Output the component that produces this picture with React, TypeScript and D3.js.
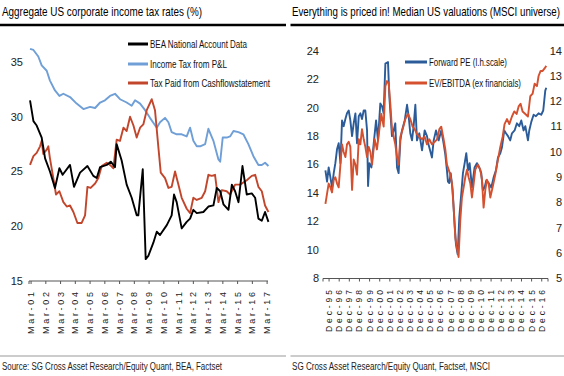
import React from 'react';
import * as d3 from 'd3';

// ---------- Left chart data (decimal year, %) ----------
const taxTickLabels = ['Mar-01','Mar-02','Mar-03','Mar-04','Mar-05','Mar-06','Mar-07','Mar-08','Mar-09','Mar-10','Mar-11','Mar-12','Mar-13','Mar-14','Mar-15','Mar-16','Mar-17'];
const taxTickYears = [2001.17,2002.17,2003.17,2004.17,2005.17,2006.17,2007.17,2008.17,2009.17,2010.17,2011.17,2012.17,2013.17,2014.17,2015.17,2016.17,2017.17];
const taxYTicks = [15, 20, 25, 30, 35];

const beaSeries: [number, number][] = [
  [2001.10,31.5],[2001.33,29.6],[2001.55,29.2],[2001.89,28.1],[2002.12,26.2],[2002.45,25.0],[2002.79,23.5],
  [2003.09,25.3],[2003.31,24.7],[2003.81,25.6],[2004.08,23.6],[2004.49,24.9],[2004.99,25.5],[2005.39,24.6],
  [2005.62,24.4],[2005.85,25.4],[2006.30,25.6],[2006.57,25.9],[2006.86,25.4],[2006.97,27.5],[2007.31,26.0],
  [2007.65,23.8],[2007.99,22.6],[2008.33,21.0],[2008.44,21.0],[2008.74,25.2],[2008.94,17.0],[2009.12,17.3],
  [2009.46,18.5],[2009.69,19.5],[2009.91,19.2],[2010.37,20.1],[2010.70,21.0],[2010.86,22.9],[2011.04,22.2],
  [2011.38,19.8],[2011.72,20.4],[2011.95,20.7],[2012.17,21.5],[2012.40,21.2],[2012.85,21.3],[2013.19,21.8],
  [2013.53,21.9],[2013.76,23.5],[2013.99,23.2],[2014.21,22.0],[2014.55,21.5],[2014.78,23.8],[2015.00,23.2],
  [2015.23,22.2],[2015.50,25.5],[2015.79,22.9],[2016.13,23.0],[2016.36,22.6],[2016.58,20.7],[2016.81,20.5],
  [2017.03,21.3],[2017.26,20.4],
];
const plSeries: [number, number][] = [
  [2001.10,36.2],[2001.33,36.1],[2001.66,35.5],[2001.89,34.7],[2002.23,34.2],[2002.45,33.3],[2002.79,32.4],
  [2003.09,31.9],[2003.36,32.1],[2003.81,31.8],[2004.26,31.2],[2004.72,30.7],[2005.17,30.9],[2005.51,30.8],
  [2005.85,31.3],[2006.18,31.5],[2006.52,31.9],[2006.86,32.1],[2007.20,31.6],[2007.65,31.3],[2007.99,31.0],
  [2008.22,31.5],[2008.56,31.2],[2008.90,30.6],[2009.23,29.9],[2009.69,29.0],[2009.91,29.5],[2010.25,29.9],
  [2010.48,29.5],[2010.70,28.6],[2011.04,28.4],[2011.38,28.4],[2011.72,28.2],[2011.95,29.0],[2012.17,27.8],
  [2012.40,27.3],[2012.63,27.3],[2012.97,27.5],[2013.19,28.9],[2013.53,27.8],[2013.87,26.1],[2013.99,25.9],
  [2014.16,28.1],[2014.43,28.1],[2014.66,28.2],[2014.89,28.7],[2015.23,28.6],[2015.56,28.4],[2015.90,27.5],
  [2016.24,26.4],[2016.58,25.6],[2016.81,25.6],[2017.03,25.8],[2017.26,25.5],
];
const cashSeries: [number, number][] = [
  [2001.10,25.6],[2001.33,26.4],[2001.55,26.7],[2001.78,27.3],[2001.89,27.8],[2002.00,26.6],[2002.23,27.0],
  [2002.34,27.3],[2002.45,26.2],[2002.68,24.4],[2002.86,22.9],[2003.09,23.2],[2003.36,22.2],[2003.59,21.8],
  [2003.81,21.9],[2004.04,21.3],[2004.31,20.3],[2004.60,20.3],[2004.83,21.0],[2004.99,23.6],[2005.21,23.5],
  [2005.51,23.9],[2005.73,24.4],[2005.96,25.5],[2006.30,25.8],[2006.52,25.6],[2006.75,25.3],[2006.97,27.9],
  [2007.20,27.8],[2007.43,29.0],[2007.65,28.7],[2007.88,30.0],[2008.11,29.2],[2008.33,28.1],[2008.56,29.0],
  [2008.78,29.3],[2009.01,30.6],[2009.35,31.6],[2009.57,30.6],[2009.80,27.2],[2009.96,24.9],[2010.25,24.4],
  [2010.48,23.5],[2010.70,23.6],[2010.93,25.0],[2011.16,23.8],[2011.38,22.6],[2011.72,21.6],[2011.95,21.2],
  [2012.17,22.6],[2012.40,22.4],[2012.74,22.6],[2012.97,23.2],[2013.19,24.7],[2013.42,24.6],[2013.64,24.7],
  [2013.87,22.2],[2014.10,23.3],[2014.43,23.2],[2014.66,22.9],[2015.00,23.8],[2015.34,23.8],[2015.79,24.2],
  [2016.13,24.6],[2016.36,24.7],[2016.58,23.6],[2016.81,23.2],[2017.03,21.9],[2017.26,21.3],
];

// ---------- Right chart data (decimal year, multiple) ----------
const valTickLabels = ['Dec-95','Dec-96','Dec-97','Dec-98','Dec-99','Dec-00','Dec-01','Dec-02','Dec-03','Dec-04','Dec-05','Dec-06','Dec-07','Dec-08','Dec-09','Dec-10','Dec-11','Dec-12','Dec-13','Dec-14','Dec-15','Dec-16'];
const valTickYears = [1995.92,1996.92,1997.92,1998.92,1999.92,2000.92,2001.92,2002.92,2003.92,2004.92,2005.92,2006.92,2007.92,2008.92,2009.92,2010.92,2011.92,2012.92,2013.92,2014.92,2015.92,2016.92];
const peTicks = [8, 10, 12, 14, 16, 18, 20, 22, 24];
const evTicks = [5, 6, 7, 8, 9, 10, 11, 12, 13, 14];

const forwardPE: [number, number][] = [
  [1995.56,15.6],[1995.72,14.8],[1995.88,15.8],[1996.05,15.1],[1996.21,14.4],[1996.38,15.4],[1996.54,16.1],
  [1996.71,17.1],[1996.87,17.5],[1997.04,16.1],[1997.20,19.1],[1997.36,18.7],[1997.53,19.2],[1997.69,19.6],
  [1997.86,19.8],[1998.02,19.1],[1998.19,18.0],[1998.35,18.9],[1998.52,19.6],[1998.68,17.5],[1998.85,19.4],
  [1999.01,19.6],[1999.17,19.2],[1999.34,19.8],[1999.50,19.8],[1999.67,18.4],[1999.77,14.5],[1999.90,16.1],
  [2000.10,15.8],[2000.33,17.5],[2000.56,19.1],[2000.75,17.7],[2000.98,20.3],[2001.15,20.1],[2001.31,19.6],
  [2001.48,23.1],[2001.74,23.2],[2001.87,20.8],[2002.13,18.0],[2002.30,18.4],[2002.46,18.9],[2002.63,15.8],
  [2002.79,15.4],[2002.96,17.7],[2003.12,18.4],[2003.39,19.1],[2003.62,20.2],[2003.78,19.4],[2003.94,18.2],
  [2004.11,17.7],[2004.27,18.7],[2004.44,20.2],[2004.60,17.7],[2004.83,18.2],[2005.10,17.0],[2005.36,18.4],
  [2005.59,18.0],[2005.75,17.4],[2006.08,16.5],[2006.25,17.7],[2006.48,18.4],[2006.74,17.7],[2007.00,18.4],
  [2007.23,17.5],[2007.40,16.7],[2007.56,15.6],[2007.66,14.8],[2007.79,14.7],[2007.93,15.4],[2008.12,14.2],
  [2008.32,11.8],[2008.45,10.4],[2008.62,9.7],[2008.78,12.3],[2008.98,14.0],[2009.14,15.4],[2009.31,16.1],
  [2009.47,16.8],[2009.64,15.6],[2009.80,16.1],[2010.03,14.4],[2010.29,15.8],[2010.52,16.1],[2010.75,15.8],
  [2010.95,15.4],[2011.11,14.2],[2011.28,14.4],[2011.45,14.9],[2011.68,14.7],[2011.94,14.4],[2012.17,15.1],
  [2012.40,15.6],[2012.60,16.5],[2012.83,16.8],[2012.99,17.2],[2013.22,18.4],[2013.39,18.2],[2013.59,18.0],
  [2013.81,17.7],[2013.98,18.2],[2014.24,18.4],[2014.47,18.9],[2014.70,18.7],[2014.90,19.1],[2015.13,18.4],
  [2015.30,18.7],[2015.56,17.7],[2015.69,18.4],[2015.89,19.0],[2016.12,19.5],[2016.35,19.4],[2016.61,19.6],
  [2016.87,19.5],[2017.07,19.8],[2017.27,21.2],[2017.37,21.4],
];
const evEbitda: [number, number][] = [
  [1995.56,7.95],[1995.72,8.35],[1995.88,8.75],[1996.05,8.6],[1996.21,8.4],[1996.38,8.9],[1996.54,9.0],
  [1996.71,8.75],[1996.87,8.6],[1997.04,9.5],[1997.20,10.3],[1997.36,10.0],[1997.53,9.8],[1997.69,10.3],
  [1997.86,10.4],[1998.02,10.2],[1998.19,8.5],[1998.35,9.7],[1998.52,9.5],[1998.68,9.1],[1998.85,10.5],
  [1999.01,10.3],[1999.17,10.9],[1999.34,10.5],[1999.50,10.2],[1999.67,9.8],[1999.83,10.2],[2000.00,10.0],
  [2000.16,9.5],[2000.42,10.5],[2000.65,10.1],[2000.89,10.9],[2001.08,11.5],[2001.31,11.0],[2001.48,12.6],
  [2001.64,12.8],[2001.81,12.7],[2001.97,11.9],[2002.13,10.9],[2002.30,10.6],[2002.46,10.3],[2002.63,9.8],
  [2002.79,9.5],[2002.96,10.6],[2003.19,10.9],[2003.45,11.3],[2003.71,11.5],[2003.94,11.3],[2004.17,11.0],
  [2004.37,10.9],[2004.60,10.7],[2004.83,10.6],[2005.10,10.5],[2005.36,10.6],[2005.59,10.3],[2005.82,10.5],
  [2006.08,10.3],[2006.35,10.4],[2006.58,10.5],[2006.81,10.9],[2007.00,11.0],[2007.23,10.5],[2007.40,10.1],
  [2007.56,9.5],[2007.73,9.3],[2007.89,9.1],[2008.06,8.75],[2008.22,7.8],[2008.39,6.6],[2008.55,6.2],
  [2008.71,5.85],[2008.88,7.3],[2009.04,8.2],[2009.21,8.6],[2009.37,9.0],[2009.54,9.3],[2009.70,9.0],
  [2009.87,8.75],[2010.03,8.2],[2010.20,8.75],[2010.36,9.3],[2010.62,9.5],[2010.85,9.3],[2011.02,8.9],
  [2011.18,7.8],[2011.35,8.5],[2011.51,8.9],[2011.68,8.75],[2011.84,8.2],[2012.07,8.6],[2012.33,9.1],
  [2012.60,9.7],[2012.83,10.2],[2013.06,10.6],[2013.25,11.1],[2013.49,11.3],[2013.72,11.1],[2013.98,11.4],
  [2014.21,11.6],[2014.44,11.5],[2014.64,11.8],[2014.83,11.9],[2015.03,11.6],[2015.30,11.5],[2015.56,11.4],
  [2015.79,12.2],[2016.02,12.3],[2016.22,12.7],[2016.45,12.6],[2016.61,13.0],[2016.81,13.2],[2017.01,13.2],
  [2017.20,13.3],[2017.37,13.4],
];

const NARROW = '"Liberation Sans Narrow", "Arial Narrow", "Liberation Sans", Arial, sans-serif';
const SANS = '"Liberation Sans", Arial, sans-serif';

export default function App() {
  // Left chart scales
  const xL = d3.scaleLinear().domain([2001.03, 2017.23]).range([29, 268]);
  const yL = d3.scaleLinear().domain([15, 35]).range([281, 62]);
  const lineL = d3.line<[number, number]>().x(d => xL(d[0])).y(d => yL(d[1]));

  // Right chart scales
  const xR = d3.scaleLinear().domain([1995.32, 2017.54]).range([323, 548]);
  const yPE = d3.scaleLinear().domain([8, 24]).range([278.5, 50.7]);
  const yEV = d3.scaleLinear().domain([5, 14]).range([278.5, 50.7]);
  const linePE = d3.line<[number, number]>().x(d => xR(d[0])).y(d => yPE(d[1]));
  const lineEV = d3.line<[number, number]>().x(d => xR(d[0])).y(d => yEV(d[1]));

  const colBlack = '#000000';
  const colLightBlue = '#6f9fd6';
  const colRedL = '#c2462c';
  const colBlueR = '#2b5c99';
  const colRedR = '#d4502e';

  const legendL = [
    { label: 'BEA National Account Data', color: colBlack, y: 44, w: 97 },
    { label: 'Income Tax from P&L', color: colLightBlue, y: 64, w: 77 },
    { label: 'Tax Paid from Cashflowstatement', color: colRedL, y: 83, w: 120 },
  ];
  const legendR = [
    { label: 'Forward PE (l.h.scale)', color: colBlueR, y: 62, w: 78 },
    { label: 'EV/EBITDA (ex financials)', color: colRedR, y: 83, w: 92 },
  ];

  const titleScale = 0.72;

  return (
    <svg width={564} height={376} style={{ position: 'absolute', left: 0, top: 0, background: '#fff' }}>
      <rect x={0} y={0} width={564} height={376} fill="#fff" />
      {/* Titles */}
      <g transform={`translate(2,16) scale(${titleScale},1)`}>
        <text x={0} y={0} fontFamily={NARROW} fontSize={13} fill="#000" textLength={200 / titleScale} lengthAdjust="spacingAndGlyphs">
          Aggregate US corporate income tax rates (%)
        </text>
      </g>
      <g transform={`translate(292,16) scale(${titleScale},1)`}>
        <text x={0} y={0} fontFamily={NARROW} fontSize={13} fill="#000" textLength={268 / titleScale} lengthAdjust="spacingAndGlyphs">
          Everything is priced in! Median US valuations (MSCI universe)
        </text>
      </g>
      <line x1={0} x2={286} y1={25} y2={25} stroke="#000" strokeWidth={2.6} />
      <line x1={290.5} x2={564} y1={25} y2={25} stroke="#000" strokeWidth={2.6} />

      {/* Left chart */}
      <g>
        {taxYTicks.map(v => (
          <text key={v} x={23} y={yL(v)} dy="0.35em" textAnchor="end" fontFamily={NARROW} fontSize={11} fill="#222">
            {v}
          </text>
        ))}
        <line x1={xL.range()[0]} x2={xL.range()[1]} y1={yL(15)} y2={yL(15)} stroke="#555" strokeWidth={1} />
        <line x1={xL.range()[0]} x2={xL.range()[0]} y1={yL(15)} y2={yL(15) + 3} stroke="#555" strokeWidth={1} />
        {taxTickYears.map((t, i) => (
          <g key={t}>
            <line x1={xL(t)} x2={xL(t)} y1={yL(15)} y2={yL(15) + 3} stroke="#555" strokeWidth={1} />
            <text transform={`translate(${xL(t)},292) rotate(-90)`} textAnchor="end" dominantBaseline="central"
              fontFamily={SANS} fontSize={9} fill="#222" textLength={42} lengthAdjust="spacing">
              {taxTickLabels[i]}
            </text>
          </g>
        ))}
        <path d={lineL(plSeries) || ''} fill="none" stroke={colLightBlue} strokeWidth={1.9} strokeLinejoin="round" />
        <path d={lineL(cashSeries) || ''} fill="none" stroke={colRedL} strokeWidth={1.9} strokeLinejoin="round" />
        <path d={lineL(beaSeries) || ''} fill="none" stroke={colBlack} strokeWidth={1.9} strokeLinejoin="round" />
        {legendL.map(l => (
          <g key={l.label}>
            <line x1={128} x2={148} y1={l.y} y2={l.y} stroke={l.color} strokeWidth={3} />
            <text x={150} y={l.y} dy="0.35em" fontFamily={NARROW} fontSize={10.5} fill="#111" textLength={l.w} lengthAdjust="spacingAndGlyphs">
              {l.label}
            </text>
          </g>
        ))}
      </g>

      {/* Right chart */}
      <g>
        {peTicks.map(v => (
          <text key={v} x={319} y={yPE(v)} dy="0.35em" textAnchor="end" fontFamily={NARROW} fontSize={11} fill="#222">
            {v}
          </text>
        ))}
        {evTicks.map(v => (
          <text key={v} x={562} y={yEV(v)} dy="0.35em" textAnchor="end" fontFamily={NARROW} fontSize={11} fill="#222">
            {v}
          </text>
        ))}
        <line x1={xR.range()[0]} x2={xR.range()[1]} y1={yPE(8)} y2={yPE(8)} stroke="#555" strokeWidth={1} />
        <line x1={xR.range()[0]} x2={xR.range()[0]} y1={yPE(8)} y2={yPE(8) + 3} stroke="#555" strokeWidth={1} />
        <line x1={xR.range()[1]} x2={xR.range()[1]} y1={yPE(8)} y2={yPE(8) + 3} stroke="#555" strokeWidth={1} />
        {valTickYears.map((t, i) => (
          <g key={t}>
            <line x1={xR(t)} x2={xR(t)} y1={yPE(8)} y2={yPE(8) + 3} stroke="#555" strokeWidth={1} />
            <text transform={`translate(${xR(t)},290) rotate(-90)`} textAnchor="end" dominantBaseline="central"
              fontFamily={SANS} fontSize={8.5} fill="#222" textLength={42} lengthAdjust="spacing">
              {valTickLabels[i]}
            </text>
          </g>
        ))}
        <path d={linePE(forwardPE) || ''} fill="none" stroke={colBlueR} strokeWidth={1.9} strokeLinejoin="round" />
        <path d={lineEV(evEbitda) || ''} fill="none" stroke={colRedR} strokeWidth={1.9} strokeLinejoin="round" />
        {legendR.map(l => (
          <g key={l.label}>
            <line x1={405} x2={427} y1={l.y} y2={l.y} stroke={l.color} strokeWidth={3} />
            <text x={429} y={l.y} dy="0.35em" fontFamily={NARROW} fontSize={10.5} fill="#111" textLength={l.w} lengthAdjust="spacingAndGlyphs">
              {l.label}
            </text>
          </g>
        ))}
      </g>

      {/* Footer */}
      <line x1={0} x2={286} y1={356} y2={356} stroke="#999" strokeWidth={1.2} />
      <line x1={290.5} x2={564} y1={356} y2={356} stroke="#999" strokeWidth={1.2} />
      <text x={2} y={370} fontFamily={NARROW} fontSize={10} fill="#222" textLength={220} lengthAdjust="spacingAndGlyphs">
        Source: SG Cross Asset Research/Equity Quant, BEA, Factset
      </text>
      <text x={292} y={370} fontFamily={NARROW} fontSize={10} fill="#222" textLength={198} lengthAdjust="spacingAndGlyphs">
        SG Cross Asset Research/Equity Quant, Factset, MSCI
      </text>
    </svg>
  );
}
